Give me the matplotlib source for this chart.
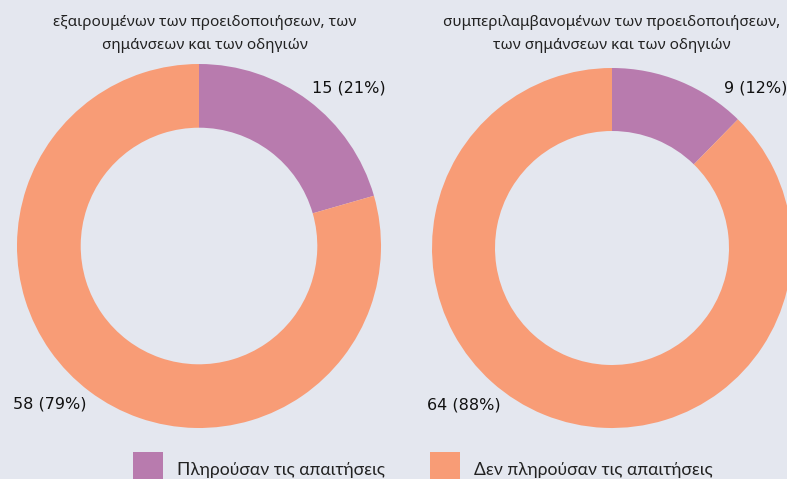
import matplotlib.pyplot as plt
from matplotlib.patches import Rectangle

# Δεδομένα
categories = ['Πληρούσαν τις απαιτήσεις', 'Δεν πληρούσαν τις απαιτήσεις']
left_values = [15, 58]
right_values = [9, 64]
left_title = 'εξαιρουμένων των προειδοποιήσεων, των\nσημάνσεων και των οδηγιών'
right_title = 'συμπεριλαμβανομένων των προειδοποιήσεων,\nτων σημάνσεων και των οδηγιών'
colors = ['#B87BAE', '#F89C76']
bg = '#E4E7EF'

W, H = 787, 479
fig = plt.figure(figsize=(W / 100, H / 100), dpi=100, facecolor=bg)


def donut(cx, cy, r, values, title, title_x, ly):
    ax = fig.add_axes([(cx - r) / W, (H - cy - r) / H, 2 * r / W, 2 * r / H])
    ax.set_facecolor(bg)
    ax.pie(values, colors=colors, startangle=90, counterclock=False,
           radius=1, wedgeprops=dict(width=0.35, linewidth=0))
    ax.set_xlim(-1, 1)
    ax.set_ylim(-1, 1)
    ax.set_aspect('equal')
    ax.axis('off')
    total = sum(values)
    labels = ['%d (%d%%)' % (v, round(100 * v / total)) for v in values]
    ax.text(0.62, ly, labels[0], ha='left', va='center', fontsize=11.5,
            family='DejaVu Sans', color='#111111')
    ax.text(-0.62, -0.87, labels[1], ha='right', va='center', fontsize=11.5,
            family='DejaVu Sans', color='#111111')
    fig.text(title_x / W, 1 - 34 / H, title, ha='center', va='center',
             fontsize=11, family='Noto Sans', color='#222222', linespacing=1.75)


donut(199, 246, 182, left_values, left_title, 205, 0.87)
donut(612, 248, 180, right_values, right_title, 612, 0.89)

# υπόμνημα
for i, (name, col) in enumerate(zip(categories, colors)):
    x0 = [133, 430][i]
    fig.patches.append(Rectangle((x0 / W, 1 - 482 / H), 30 / W, 30 / H,
                                 transform=fig.transFigure, facecolor=col,
                                 edgecolor='none'))
    fig.text((x0 + 44) / W, 1 - 470 / H, name, ha='left', va='center',
             fontsize=12.6, family='Lato', color='#222222')

fig.savefig('out.png', dpi=100, facecolor=bg)
